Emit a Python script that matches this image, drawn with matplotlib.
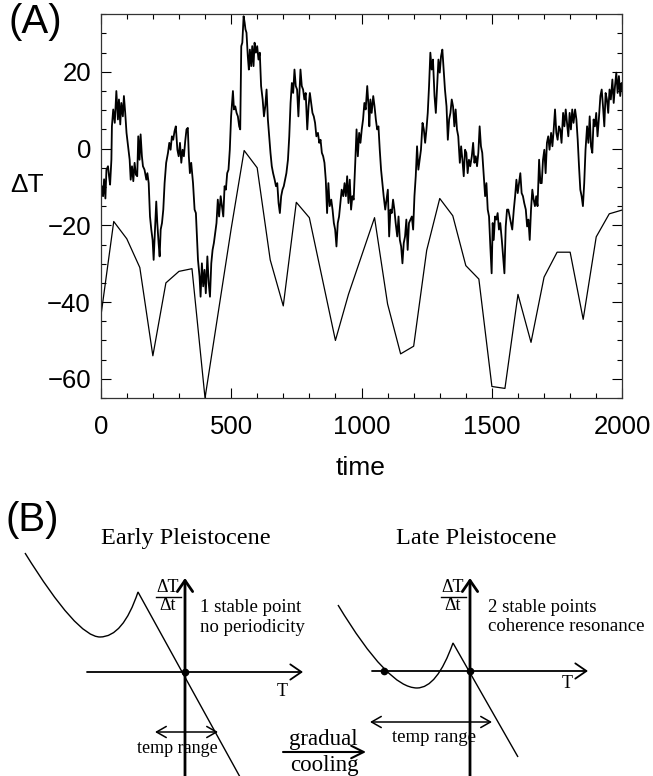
import numpy as np
import matplotlib
matplotlib.use("Agg")
import matplotlib.pyplot as plt
from matplotlib.ticker import MultipleLocator
from matplotlib.path import Path
from matplotlib.patches import PathPatch

# ---- panel A data ----
up_t = [0, 5, 9, 13, 18, 22, 28, 32, 36, 41, 43, 48, 54, 60, 66, 70, 75, 79, 85, 89,
        94, 99, 105, 111, 115, 120, 125, 130, 135, 140, 144, 149, 153, 158, 162, 168,
        175, 179, 184, 189, 194, 199, 203, 207, 213, 217, 222, 226, 230, 235, 240, 245,
        251, 258, 263, 268, 273, 278, 283, 288, 294, 299, 304, 309, 314, 319, 324, 329,
        334, 338, 342, 347, 354, 360, 365, 370, 373, 379, 383, 388, 393, 398, 403, 409,
        414, 419, 424, 429, 434, 439, 444, 449, 454, 460, 465, 470, 475, 480, 485, 490,
        495,
        500, 507, 511, 516, 521, 526, 531, 535, 539, 543, 548, 552, 555, 559, 564, 568,
        572, 577, 581, 586, 590, 595, 600, 605, 610, 615, 621, 626, 631, 636, 641, 646,
        651, 656, 661, 667, 672, 677, 682, 687, 692, 697, 702, 707, 712, 718, 723, 728,
        733, 738, 743, 748, 753, 758, 762, 766, 771, 776, 781, 786, 792, 797, 802, 807,
        812, 817, 822, 827, 833, 838, 843, 848, 853, 858, 863, 868, 873, 878, 884, 889,
        894, 899, 904, 909, 914, 919, 924, 930, 935, 940, 945, 950, 955, 960, 965, 970,
        976, 981, 986, 991, 996,
        1001, 1006, 1011, 1016, 1022, 1027, 1030, 1034, 1039, 1045, 1050, 1055, 1060,
        1065, 1070, 1075, 1080, 1085, 1091, 1096, 1101, 1106, 1111, 1116, 1121, 1126,
        1131, 1137, 1142, 1147, 1152, 1157, 1162, 1167, 1172, 1177, 1182, 1188, 1193,
        1198, 1203, 1208, 1213, 1218, 1223, 1228, 1234, 1239, 1244, 1249, 1254, 1259,
        1264, 1269, 1274, 1280, 1285, 1290, 1295, 1300, 1305, 1310, 1315, 1320, 1326,
        1331, 1336, 1341, 1346, 1351, 1356, 1361, 1366, 1371, 1377, 1382, 1387, 1392,
        1397, 1402, 1407, 1412, 1417, 1423, 1428, 1433, 1438, 1443, 1448, 1453, 1458,
        1463, 1469, 1474, 1479, 1484, 1489, 1494, 1499,
        1503, 1507, 1512, 1517, 1522, 1527, 1532, 1538, 1543, 1548, 1553, 1558, 1563,
        1568, 1573, 1578, 1584, 1589, 1594, 1599, 1604, 1609, 1614, 1619, 1624, 1630,
        1635, 1640, 1645, 1650, 1655, 1660, 1665, 1670, 1675, 1681, 1686, 1691, 1696,
        1701, 1706, 1711, 1716, 1721, 1727, 1732, 1737, 1742, 1747, 1752, 1757, 1762,
        1767, 1773, 1778, 1783, 1788, 1793, 1798, 1803, 1808, 1813, 1819, 1824, 1829,
        1834, 1839, 1844, 1849, 1854, 1859, 1865, 1870, 1875, 1880, 1885, 1890, 1895,
        1900, 1905, 1910, 1916, 1921, 1926, 1931, 1936, 1941, 1946, 1951, 1956, 1962,
        1967, 1972, 1977, 1982, 1987, 1992, 1997, 2000]
up_v = [-13.3, -9.8, -12.4, -8, -13, -5.5, -4.6, -7.2, -9.4, -2.9, 5.8, 10.2, 6.7, 15,
        7.6, 12.8, 6.3, 11.9, 8.4, 13.7, 9.3, 4.1, 0.6, -2.9, -8.1, -4.6, -8.5, -3.7,
        -6.8, -7.2, 3.2, -2.9, 3.7, -2, -4.6, -5.5, -8.1, -6.4, -9, -17.7, -21.1, -23.8,
        -29, -22.9, -13.8, -19.4, -24.6, -28.1, -21.1, -19.4, -15.9, -9, -3.7, -1.1,
        1.5, -0.3, 3.2, 2.3, 4.5, 5.8, -0.3, -2, 1.5, -3.7, -0.3, -2, 1.9, 5, 5.4, -2,
        -6.4, -3.7, -9, -15.9, -16.8, -24.6, -29, -33.3, -38.6, -29.9, -35.9, -31.6,
        -37.7, -28.1, -35, -38.6, -29.9, -26.4, -24.6, -22, -19.4, -13.3, -17.7, -12.4,
        -15, -17.7, -9.8, -10.7, -6.4, -5.5, -0.3,
        8.4, 15, 10.2, 11, 9.3, 8.4, 5.8, 5, 26.7, 27.6, 34.5, 32.8, 31.1, 30.2, 24.1,
        20.6, 25.8, 21.5, 26.7, 21.5, 27.6, 25, 26.7, 23.2, 25, 16.3, 12.8, 8.4, 11,
        15.4, 7.6, 3.2, -1.1, -4.6, -6.4, -8.1, -9.8, -9, -14.2, -16.8, -12.4, -10.7,
        -9.8, -8.1, -6.4, -2.9, 3.2, 11.9, 17.1, 14.5, 20.6, 16.3, 15.4, 8.4, 14.5,
        20.6, 16.3, 15.4, 12.8, 14.5, 5, 11, 14.5, 11.9, 9.3, 8.4, 6.7, 3.2, 4.1, 1.5,
        2.3, -1.1, -2, -3.7, -8.1, -16.8, -9, -15, -13.3, -15.9, -19.4, -21.1, -25.5,
        -19.4, -17.7, -14.2, -10.7, -12.4, -9, -12.4, -7.2, -14.2, -8.1, -15.9, -12.4,
        -13.3, -3.7, 5, -2, 4.1, 1.5,
        5, 7.6, 11.9, 10.2, 16.3, 11, 5.8, 12.8, 9.3, 13.7, 11, 7.6, 5, 5.8, -0.3, -5.5,
        -9, -12.4, -15.9, -13.3, -10.7, -22.9, -15.9, -16.8, -13.3, -15.9, -19.4, -22.9,
        -17.7, -23.8, -25.5, -29.9, -24.6, -22.9, -18.5, -26.4, -19.4, -18.5, -17.7,
        -21.1, -12.4, -7.2, 0.6, -5.5, -2.9, -0.3, 6.7, 5, 1.5, 5, 9.3, 16.3, 25, 20.6,
        23.2, 13.7, 9.3, 16.3, 23.2, 19.8, 24.1, 25.8, 20.6, 15.4, 11, 2.3, 7.6, 9.3,
        12.8, 11, 5.8, 10.2, 5, 3.2, -3.7, 0.6, -2.9, -7.2, -0.3, -1.1, -6.4, -2.9,
        -4.6, -2, 1.5, -3.7, -2, -4.6, -1.1, 5.8, 0.6, -1.1, -7.2, -12.4, -9, -15.9,
        -17.7, -25.5, -32.5,
        -19.4, -23.8, -17.7, -18.5, -16.8, -21.1, -19.4, -23.8, -28.1, -32.5, -20.3,
        -15.9, -15.9, -17.7, -19.4, -21.1, -15.9, -12.4, -8.1, -11.6, -9, -6.4, -11.6,
        -12.4, -14.2, -15.9, -20.3, -18.5, -23.8, -15.9, -10.7, -13.3, -15, -12.4, -15,
        -2.9, -9, -9, -2.9, -0.3, -6.4, 1.5, 3.2, -0.3, 4.1, 0.6, 5, 10.2, 4.1, 2.3,
        5.8, 5, 1.5, 9.3, 5.8, 10.2, 6.7, 3.2, 9.3, 5, 10.2, 6.7, 10.2, 7.6, 2.3, -4.6,
        -10.7, -12.4, -15, -9, -0.3, 5.8, 1.5, 8.4, 0.6, -1.1, 7.6, 5.8, 9.3, 3.2, 7.6,
        13.7, 15.4, 11, 5.8, 14.5, 12.8, 9.3, 15.4, 12.8, 18, 11.9, 16.3, 19.8, 14.5,
        18.9, 13.7, 17.1, 15.4]

low_t = list(range(0, 2001, 50))
low_v = [-44, -19, -23.5, -31, -54, -35, -32, -31.3, -65, -43, -21, -0.5, -5, -29,
         -41, -14, -18, -34, -50, -38, -28, -18, -40.5, -53.5, -51.5, -26.5, -13,
         -17.5, -30.5, -34, -62, -62.5, -38, -50.5, -33.5, -27, -27, -44.5, -23, -17,
         -16]

x_ticks = [0, 500, 1000, 1500, 2000]
y_ticks = [-60, -40, -20, 0, 20]
y_ticklabels = ["\u221260", "\u221240", "\u221220", "0", "20"]

# ---- panel B schematic (figure pixel coords, quadratic bezier control points) ----
early_x = [25, 77, 100, 123, 138, 240]
early_y = [553, 637, 637, 637, 592, 777]
late_x = [338, 388, 417, 437, 453, 518]
late_y = [605, 688, 688, 688, 643, 757]
curve_codes = [Path.MOVETO, Path.CURVE3, Path.CURVE3, Path.CURVE3, Path.CURVE3,
               Path.LINETO]

W, H = 653, 776
fig = plt.figure(figsize=(W / 100, H / 100), dpi=100)

sans = ["Liberation Sans", "DejaVu Sans"]
serif = ["Liberation Serif", "DejaVu Serif"]

# background axes in pixel units for panel B and free labels
axb = fig.add_axes([0, 0, 1, 1])
axb.set_xlim(0, W)
axb.set_ylim(H, 0)
axb.axis("off")

ax = fig.add_axes([100.7 / W, 1 - 398 / H, 521.6 / W, 383.7 / H])
ax.plot(low_t, low_v, color="k", lw=0.9)
ax.plot(up_t, up_v, color="k", lw=1.3)
ax.set_xlim(0, 2000)
ax.set_ylim(-65, 35)
ax.set_xticks(x_ticks)
ax.set_yticks(y_ticks)
ax.set_yticklabels(y_ticklabels)
ax.xaxis.set_minor_locator(MultipleLocator(100))
ax.yaxis.set_minor_locator(MultipleLocator(5))
ax.tick_params(which="both", direction="in", top=True, right=True, width=0.8,
               labelsize=18.5, labelfontfamily=sans)
ax.tick_params(which="major", length=7.5)
ax.tick_params(which="minor", length=3.8)
ax.tick_params(axis="x", pad=12)
ax.tick_params(axis="y", pad=7)
for s in ax.spines.values():
    s.set_linewidth(0.9)
    s.set_color("#333333")

axb.text(35, 22, "(A)", fontsize=29, family=sans, ha="center", va="center")
axb.text(27, 185, "\u0394T", fontsize=19, family=sans, ha="center", va="center")
axb.text(361, 468, "time", fontsize=19, family=sans, ha="center", va="center")
axb.text(32, 520, "(B)", fontsize=29, family=sans, ha="center", va="center")

# curves
for cx, cy in [(early_x, early_y), (late_x, late_y)]:
    path = Path(np.column_stack([cx, cy]), curve_codes)
    axb.add_patch(PathPatch(path, facecolor="none", edgecolor="k", lw=1.0))


def arrow(p0, p1, lw, style="->", hl=0.8, hw=0.55):
    axb.annotate("", xy=p1, xytext=p0,
                 arrowprops=dict(arrowstyle=f"{style},head_length={hl},head_width={hw}",
                                 lw=lw, color="k", shrinkA=0, shrinkB=0))


# left diagram
arrow((185, 776), (185, 578), 2.0)
arrow((87, 672), (303, 672), 1.3)
axb.plot([185], [672], "o", color="k", ms=4.5)
arrow((155, 732), (218, 732), 1.1, "<->", 0.7, 0.4)
axb.text(177, 753, "temp range", fontsize=13, family=serif, ha="center", va="baseline")
axb.text(282, 691, "T", fontsize=13, family=serif, ha="center", va="center")
axb.text(168, 592, "\u0394T", fontsize=13, family=serif, ha="center", va="baseline")
axb.plot([156, 181], [597, 597], color="k", lw=1.0)
axb.text(168, 610, "\u0394t", fontsize=13, family=serif, ha="center", va="baseline")
axb.text(186, 544, "Early Pleistocene", fontsize=17.5, family=serif, ha="center",
         va="baseline")
axb.text(200, 612, "1 stable point", fontsize=13.5, family=serif, va="baseline")
axb.text(200, 632, "no periodicity", fontsize=13.5, family=serif, va="baseline")

# right diagram
arrow((470, 776), (470, 578), 2.0)
arrow((372, 671), (588, 671), 1.3)
axb.plot([384, 470], [671, 671], "o", color="k", ms=4.5)
arrow((370, 722), (492, 722), 1.1, "<->", 0.7, 0.4)
axb.text(434, 742, "temp range", fontsize=13.5, family=serif, ha="center", va="baseline")
axb.text(567, 684, "T", fontsize=13, family=serif, ha="center", va="center")
axb.text(453, 592, "\u0394T", fontsize=13, family=serif, ha="center", va="baseline")
axb.plot([441, 466], [597, 597], color="k", lw=1.0)
axb.text(453, 610, "\u0394t", fontsize=13, family=serif, ha="center", va="baseline")
axb.text(476, 544, "Late Pleistocene", fontsize=17.5, family=serif, ha="center",
         va="baseline")
axb.text(488, 612, "2 stable points", fontsize=13.5, family=serif, va="baseline")
axb.text(488, 631, "coherence resonance", fontsize=13.5, family=serif, va="baseline")

# gradual cooling
arrow((283, 752), (366, 752), 1.5, "->", 0.9, 0.45)
axb.text(323, 745, "gradual", fontsize=16.5, family=serif, ha="center", va="baseline")
axb.text(324, 771, "cooling", fontsize=16.5, family=serif, ha="center", va="baseline")

fig.savefig("out.png", dpi=100)
